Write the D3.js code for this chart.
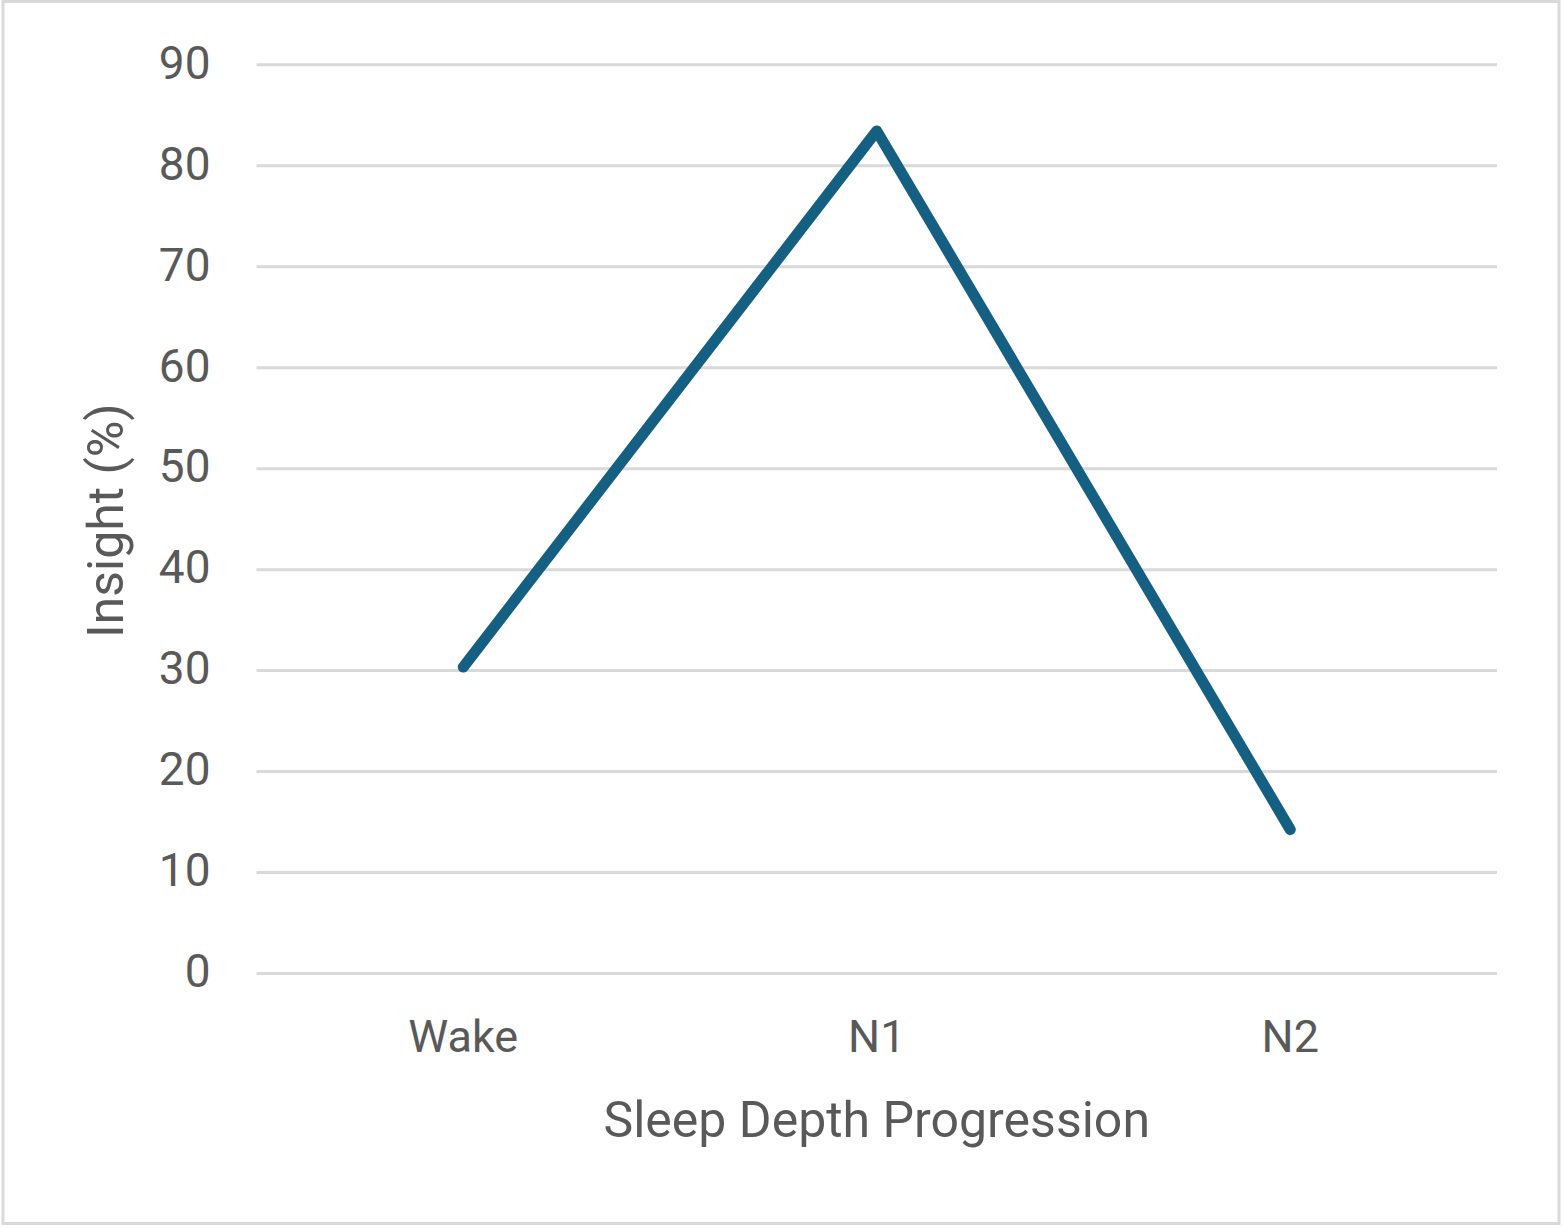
<!DOCTYPE html>
<html>
<head>
<meta charset="utf-8">
<script src="https://cdn.jsdelivr.net/npm/d3@7"></script>
<style>
  html, body { margin: 0; padding: 0; background: #fff; }
  svg { display: block; }
</style>
</head>
<body>
<svg id="chart" width="1565" height="1228"></svg>
<script>
const stages = ['Wake', 'N1', 'N2']
const insight = [30.3, 83.4, 14.2]
const yTicks = [0, 10, 20, 30, 40, 50, 60, 70, 80, 90]

const svg = d3.select('#chart')
const textColor = '#595959'
const font = 'Roboto, "Open Sans", sans-serif'

// outer frame of the chart area
svg.append('rect')
  .attr('x', 3).attr('y', 1.5)
  .attr('width', 1556).attr('height', 1222)
  .attr('fill', '#fff')
  .attr('stroke', '#d9d9d9')
  .attr('stroke-width', 3)

const plot = { left: 256.5, right: 1497, top: 64.3, bottom: 973 }

// scales
const x = d3.scaleBand()
  .domain(stages)
  .range([plot.left, plot.right])

const y = d3.scaleLinear()
  .domain([0, 90])
  .range([plot.bottom, plot.top])

// horizontal grid
const grid = svg.append('g')
  .call(d3.axisLeft(y)
    .tickValues(yTicks)
    .tickSize(-(plot.right - plot.left))
    .tickFormat('')
  )
  .attr('transform', `translate(${plot.left}, 0)`)
grid.call(g => g.select('.domain').remove())
grid.selectAll('line')
  .attr('stroke', '#d9d9d9')
  .attr('stroke-width', 3)

// y axis labels
const yAxis = svg.append('g')
  .attr('transform', `translate(${plot.left}, 0)`)
  .call(d3.axisLeft(y).tickValues(yTicks).tickSize(0).tickPadding(46))
yAxis.call(g => g.select('.domain').remove())
yAxis.selectAll('text')
  .attr('font-family', font)
  .attr('font-size', 46)
  .attr('fill', textColor)
  .attr('dy', '0.3em')

// x axis labels
const xAxis = svg.append('g')
  .attr('transform', `translate(0, ${plot.bottom})`)
  .call(d3.axisBottom(x).tickSize(0).tickPadding(0))
xAxis.call(g => g.select('.domain').remove())
xAxis.selectAll('text')
  .attr('font-family', font)
  .attr('font-size', 45)
  .attr('fill', textColor)
  .attr('dy', 79)

// the series line
const line = d3.line()
  .x((d, i) => x(stages[i]) + x.bandwidth() / 2)
  .y(d => y(d))

svg.append('path')
  .datum(insight)
  .attr('d', line)
  .attr('fill', 'none')
  .attr('stroke', '#156082')
  .attr('stroke-width', 11)
  .attr('stroke-linecap', 'round')
  .attr('stroke-linejoin', 'round')

// axis titles
svg.append('text')
  .attr('x', (plot.left + plot.right) / 2)
  .attr('y', 1137)
  .attr('text-anchor', 'middle')
  .attr('font-family', font)
  .attr('font-size', 50)
  .attr('fill', textColor)
  .text('Sleep Depth Progression')

svg.append('text')
  .attr('transform', `translate(123, ${(plot.top + plot.bottom) / 2 + 2}) rotate(-90)`)
  .attr('text-anchor', 'middle')
  .attr('font-family', font)
  .attr('font-size', 50)
  .attr('fill', textColor)
  .text('Insight (%)')
</script>
</body>
</html>
